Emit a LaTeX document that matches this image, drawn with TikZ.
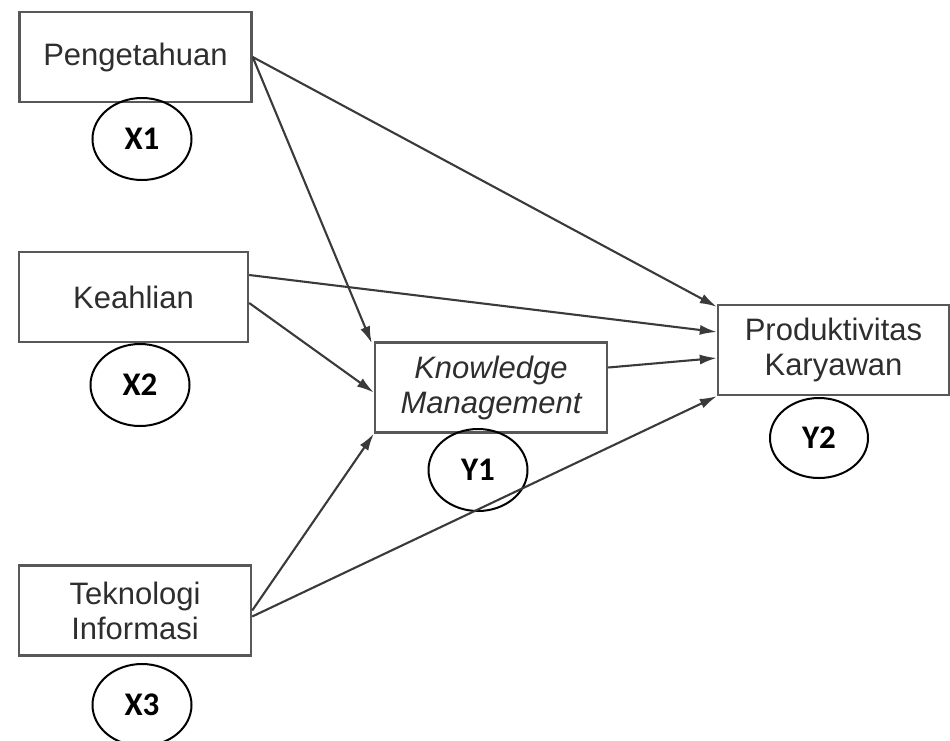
\documentclass[tikz,border=0pt]{standalone}
\usepackage{fontspec}
\setmainfont{Liberation Sans}
\newfontfamily\labelfont{Carlito}
\usetikzlibrary{arrows.meta, shapes.geometric}
\definecolor{garis}{HTML}{3A3A3A}
\definecolor{teks}{HTML}{2E2E2E}
\tikzset{
    kotak/.style={draw=garis!85, line width=2.4pt, rectangle, minimum width=232pt, minimum height=90pt,
        align=center, text=teks, font=\fontsize{31}{35}\selectfont, inner sep=0pt},
    lingkar/.style={draw=black, line width=2pt, ellipse, minimum width=99pt, minimum height=82pt,
        inner sep=0pt, font=\labelfont\bfseries\fontsize{33}{36}\selectfont},
    panah/.style={draw=garis, line width=2.1pt, -{Latex[length=17pt,width=10pt]}}
}
\begin{document}
\begin{tikzpicture}[x=1pt, y=-1pt]
    \useasboundingbox (0,0) rectangle (950,740);
    % boxes
    \node[kotak] (tahu) at (135.5,57) {Pengetahuan};
    \node[kotak, minimum width=229pt] (ahli) at (133.5,297) {Keahlian};
    \node[kotak] (ti) at (135,610.5) {Teknologi\\Informasi};
    \node[kotak] (km) at (491,387.5) {\itshape Knowledge\\\itshape Management};
    \node[kotak, minimum width=231pt] (pk) at (833.5,350) {Produktivitas\\Karyawan};
    % labels
    \node[lingkar] (x1) at (142,139) {X1};
    \node[lingkar] (x2) at (140,385) {X2};
    \node[lingkar] (x3) at (142,705) {X3};
    \node[lingkar] (y1) at (478,470) {Y1};
    \node[lingkar, minimum width=98pt, minimum height=80pt] (y2) at (819,438) {Y2};
    % paths
    \draw[panah] (tahu.east) -- ([yshift=-3pt]pk.north west);
    \draw[panah] (tahu.east) -- ([xshift=-2pt,yshift=-2pt]km.north west);
    \draw[panah] ([yshift=22pt]ahli.east) -- ([yshift=18pt]pk.west);
    \draw[panah] ([yshift=-6pt]ahli.east) -- ([yshift=-5pt]km.west);
    \draw[panah] ([yshift=20pt]km.east) -- ([yshift=-8pt]pk.west);
    \draw[panah] (ti.east) -- (km.south west);
    \draw[panah] ([yshift=-6pt]ti.east) -- (pk.south west);
\end{tikzpicture}
\end{document}
